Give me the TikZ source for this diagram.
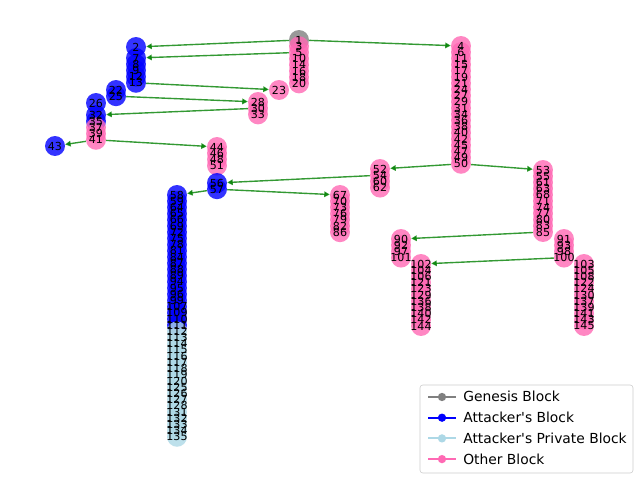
\documentclass[tikz,border=0pt]{standalone}
\usepackage{fontspec}
\setmainfont{DejaVu Sans}
\usetikzlibrary{arrows.meta}
\pgfdeclarelayer{edges}
\pgfdeclarelayer{labels}
\pgfsetlayers{edges,main,labels}
\definecolor{genesisgray}{RGB}{128,128,128}
\definecolor{attackerblue}{RGB}{0,0,255}
\definecolor{privateblue}{RGB}{173,216,230}
\definecolor{otherpink}{RGB}{255,105,180}
\definecolor{edgegreen}{RGB}{0,128,0}
\definecolor{framegray}{RGB}{204,204,204}
\newcommand{\BCStep}{6.2}
\newcommand{\BCChain}[4]{
  \foreach \lbl [count=\i from 0] in {#4} {
    \node[block, fill=#3] (b\lbl) at (#1, {#2+\i*\BCStep}) {};
    \begin{pgfonlayer}{labels}
      \node[blocklabel] (l\lbl) at (b\lbl) {\lbl};
    \end{pgfonlayer}
  }
}
\newcommand{\BCLegendEntry}[4]{
  \coordinate (#1) at (442,#2);
  \draw[#3, line width=1.5pt] (428,#2) -- (456,#2);
  \fill[#3] (#1) circle[radius=3pt];
  \node[legendtext] (#1t) at (463,{#2+5}) {#4};
}

\begin{document}
\begin{tikzpicture}[x=0.01in, y=-0.01in,
  block/.style={circle, draw=none, inner sep=0pt, minimum size=14.4pt, fill opacity=0.8},
  blocklabel/.style={inner sep=0pt, font=\fontsize{8}{8}\selectfont},
  edgeline/.style={draw=edgegreen, opacity=0.8, line width=1pt, -{Triangle[length=4pt,width=4pt]}},
  legendtext/.style={anchor=base west, inner sep=0pt, font=\fontsize{10}{10}\selectfont}]
\useasboundingbox (0,0) rectangle (640,480);

% main chain
\BCChain{299}{40}{genesisgray}{1}
\BCChain{299}{46.2}{otherpink}{3,5,10,14,16,18,20}
\BCChain{461}{46}{otherpink}{4,6,11,15,17,19,21,24,27,29,31,34,36,38,40,42,45,47,49,50}
\BCChain{380}{169}{otherpink}{52,54,60,62}
\BCChain{543}{170}{otherpink}{53,55,61,63,68,71,74,77,80,83,85}
\BCChain{401}{239}{otherpink}{90,92,97,101}
\BCChain{564}{239}{otherpink}{91,93,98,100}
\BCChain{421}{264}{otherpink}{102,104,106,121,123,129,136,138,140,142,144}
\BCChain{584}{264}{otherpink}{103,105,108,122,124,130,137,139,141,143,145}

% attacker side
\BCChain{136}{47}{attackerblue}{2}
\BCChain{136}{58}{attackerblue}{7,8,9,12,13}
\BCChain{279}{90}{otherpink}{23}
\BCChain{116}{90}{attackerblue}{22,25}
\BCChain{258}{102}{otherpink}{28,30,33}
\BCChain{96}{103}{attackerblue}{26}
\BCChain{96}{115}{attackerblue}{32,35}
\BCChain{96}{127.4}{otherpink}{37,39,41}
\BCChain{55}{146}{attackerblue}{43}
\BCChain{217}{147}{otherpink}{44,46,48,51}
\BCChain{217}{183}{attackerblue}{56,57}
\BCChain{177}{195}{attackerblue}{58,59,64,65,66,69,72,75,78,81,84,87,88,89,94,95,96,99,107,109,110,111}
\BCChain{177}{331.4}{privateblue}{112,113,114,115,116,117,118,119,120,125,126,127,128,131,132,133,134,135}
\BCChain{340}{195}{otherpink}{67,70,73,76,79,82,86}

\begin{pgfonlayer}{edges}
\draw[edgeline] (b1) -- (b2);
\draw[edgeline] (b5) -- (b7);
\draw[edgeline] (b1) -- (b4);
\draw[edgeline] (b13) -- (b23);
\draw[edgeline] (b25) -- (b28);
\draw[edgeline] (b30) -- (b32);
\draw[edgeline] (b41) -- (b43);
\draw[edgeline] (b41) -- (b44);
\draw[edgeline] (b50) -- (b52);
\draw[edgeline] (b50) -- (b53);
\draw[edgeline] (b54) -- (b56);
\draw[edgeline] (b57) -- (b58);
\draw[edgeline] (b57) -- (b67);
\draw[edgeline] (b85) -- (b90);
\draw[edgeline] (b100) -- (b102);
\end{pgfonlayer}

% legend
\draw[draw=framegray, fill=white, rounded corners=2pt] (420,385) rectangle (633,473);
\BCLegendEntry{lg1}{397}{genesisgray}{Genesis Block}
\BCLegendEntry{lg2}{417.7}{attackerblue}{Attacker\textquotesingle s Block}
\BCLegendEntry{lg3}{438.4}{privateblue}{Attacker\textquotesingle s Private Block}
\BCLegendEntry{lg4}{459.1}{otherpink}{Other Block}
\end{tikzpicture}
\end{document}
